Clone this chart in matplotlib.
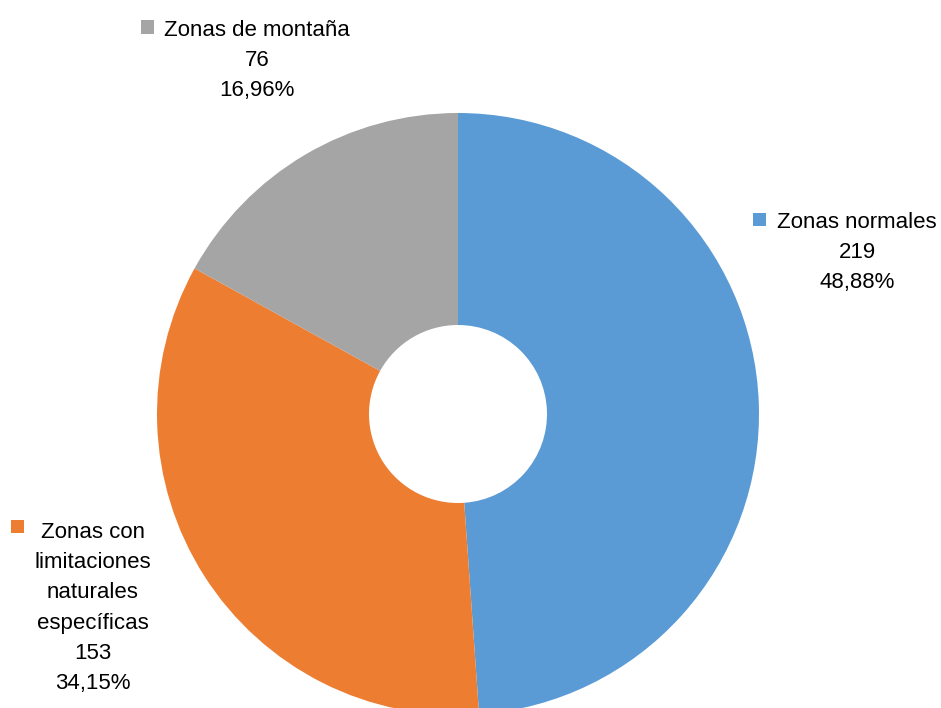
import matplotlib
matplotlib.use("Agg")
import matplotlib.pyplot as plt
from matplotlib.font_manager import fontManager

categories = ["Zonas normales", "Zonas con\nlimitaciones\nnaturales\nespecíficas", "Zonas de montaña"]
values = [219, 153, 76]
percent_labels = ["48,88%", "34,15%", "16,96%"]
colors = ["#5B9BD5", "#ED7D31", "#A5A5A5"]

names = {f.name for f in fontManager.ttflist}
fam = [f for f in ["Liberation Sans Narrow", "Arial Narrow", "Liberation Sans", "DejaVu Sans"] if f in names]
plt.rcParams['font.family'] = fam

W, H = 941, 708
fig = plt.figure(figsize=(W/100, H/100), dpi=100)
cx, cy, r = 458, 414, 301
ax = fig.add_axes([(cx - r)/W, (H - cy - r)/H, 2*r/W, 2*r/H])
ax.pie(values, colors=colors, startangle=90, counterclock=False,
       wedgeprops=dict(width=1 - 89/301, edgecolor='none'), radius=1)
ax.set_xlim(-1, 1)
ax.set_ylim(-1, 1)
ax.set_aspect('equal')
ax.axis('off')
for p in ax.patches:
    p.set_clip_on(False)

# label layout in pixels: text center x, first baseline y, key center x, key center y
label_pos = [(857, 228, 759, 220), (93, 538, 17, 526), (257, 36, 147, 27)]
fs = 16
lh = 30.2
for i, (tx, by, kx, ky) in enumerate(label_pos):
    lines = categories[i].split("\n") + [str(values[i]), percent_labels[i]]
    for j, line in enumerate(lines):
        fig.text(tx / W, 1 - (by + j * lh) / H, line, ha='center', va='baseline',
                 fontsize=fs, color='#000000')
    fig.patches.append(plt.Rectangle(((kx - 6.5) / W, 1 - (ky + 6.5) / H), 13 / W, 13 / H,
                                     transform=fig.transFigure, facecolor=colors[i],
                                     edgecolor='none', figure=fig))

fig.savefig("out.png", dpi=100)
